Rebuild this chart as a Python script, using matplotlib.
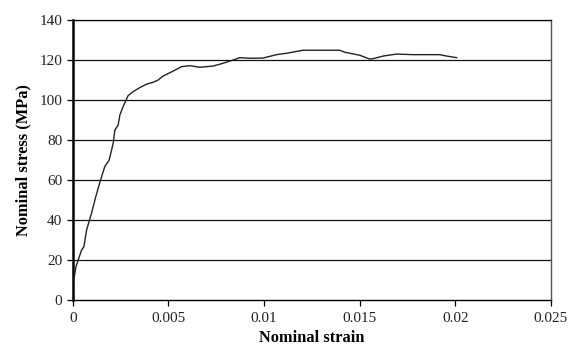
import matplotlib.pyplot as plt

strain = [0.00005, 0.00016, 0.00028, 0.00046, 0.00058, 0.00072, 0.00098, 0.0012,
          0.00145, 0.00167, 0.0019, 0.00211, 0.0022, 0.00237, 0.00246, 0.00263,
          0.00289, 0.00315, 0.0035, 0.00385, 0.0042, 0.00446, 0.00472, 0.00525,
          0.00569, 0.00612, 0.00664, 0.00734, 0.00786, 0.00838, 0.00873, 0.00926,
          0.00995, 0.01065, 0.01118, 0.01204, 0.01396, 0.01423, 0.01501, 0.01553,
          0.01571, 0.01623, 0.01693, 0.0178, 0.01919, 0.01955, 0.02007]
stress = [10, 16.5, 20, 25, 26.7, 35, 43.5, 51.7,
          60, 66.7, 70, 78.3, 85, 87.5, 92.5, 96.7,
          102.2, 104.2, 106.2, 107.9, 108.9, 110, 112, 114.5,
          116.7, 117.2, 116.4, 117, 118.4, 120, 121.2, 120.9,
          121, 122.7, 123.4, 124.9, 124.9, 123.9, 122.4, 120.5,
          120.7, 122, 123, 122.7, 122.7, 122, 121.2]

xticks = [0, 0.005, 0.01, 0.015, 0.02, 0.025]
xlabels = ['0', '0.005', '0.01', '0.015', '0.02', '0.025']
yticks = [0, 20, 40, 60, 80, 100, 120, 140]

plt.rcParams['font.family'] = ['Liberation Serif', 'DejaVu Serif']

fig = plt.figure(figsize=(5.69, 3.46), dpi=100)
ax = fig.add_axes([0.128, 0.133, 0.840, 0.809])

for y in yticks[1:]:
    ax.axhline(y, color='#111111', lw=0.9, zorder=1)

ax.plot(strain, stress, color='#222222', lw=1.0, zorder=3)

ax.set_xlim(0, 0.025)
ax.set_ylim(0, 140)
ax.set_xticks(xticks)
ax.set_xticklabels(xlabels)
ax.set_yticks(yticks)
ax.tick_params(direction='out', length=4, width=0.9, labelsize=11,
               colors='black', labelcolor='#222222')
ax.tick_params(axis='x', pad=5)

ax.spines['left'].set_linewidth(1.8)
ax.spines['bottom'].set_linewidth(1.0)
ax.spines['top'].set_linewidth(0.9)
ax.spines['right'].set_color('#555555')
ax.spines['right'].set_linewidth(1.0)

ax.set_xlabel('Nominal strain', fontsize=11.8, fontweight='bold', labelpad=3)
ax.set_ylabel('Nominal stress (MPa)', fontsize=11.8, fontweight='bold', labelpad=6)

fig.savefig('out.png', dpi=100)
